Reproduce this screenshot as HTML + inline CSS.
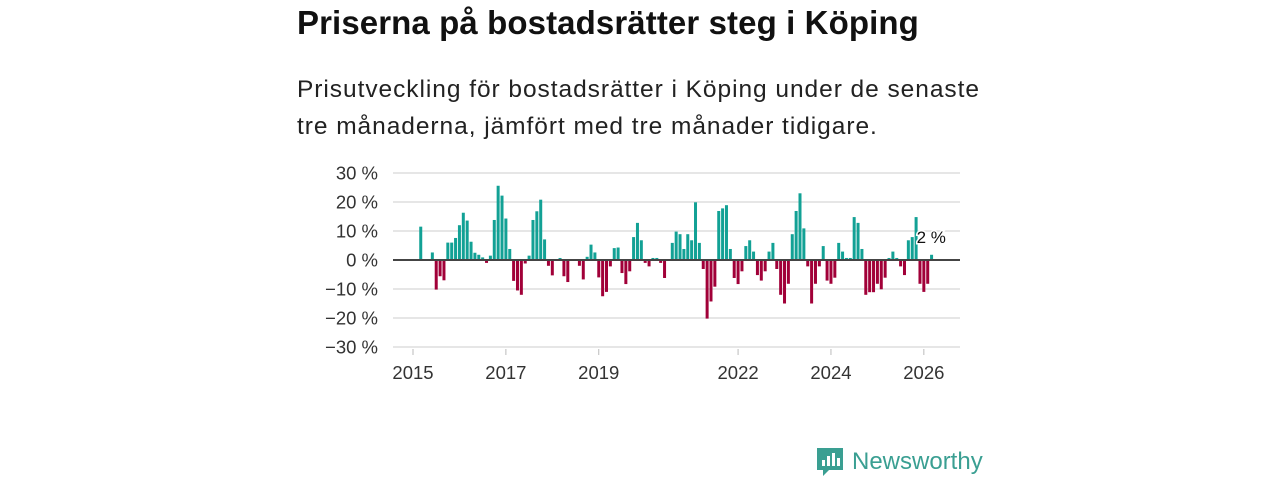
<!DOCTYPE html>
<html><head><meta charset="utf-8">
<style>
body{margin:0;background:#fff;width:1280px;height:480px;overflow:hidden;font-family:"Liberation Sans","DejaVu Sans",sans-serif;}
h1{position:absolute;left:297px;top:4px;margin:0;font-size:33px;font-weight:bold;color:#111;letter-spacing:0.1px}
.sub{position:absolute;left:297px;top:71px;margin:0;font-size:24.5px;line-height:37px;color:#222;width:720px;letter-spacing:0.95px}
svg{position:absolute;left:0;top:0}
</style></head><body>
<h1>Priserna på bostadsrätter steg i Köping</h1>
<p class="sub">Prisutveckling för bostadsrätter i Köping under de senaste<br>tre månaderna, jämfört med tre månader tidigare.</p>
<svg id="chart" width="1280" height="480"></svg>
<script>
const startYear = 2015;
const values = [null,null,11.5,null,null,2.6,-10.2,-5.6,-7,6,6,7.6,12,16.3,13.6,6.3,2.5,1.8,0.9,-1,1.5,13.8,25.6,22.2,14.3,3.8,-7.2,-10.5,-12,-1.2,1.5,13.8,16.8,20.8,7.1,-2,-5.3,null,0.7,-5.6,-7.6,null,null,-2,-6.7,1.1,5.3,2.6,-6,-12.5,-11,-2.2,4.1,4.3,-4.5,-8.3,-3.9,7.9,12.8,6.8,-1,-2.2,0.7,0.7,-1,-6.2,null,5.9,9.8,8.9,3.8,8.9,6.8,19.9,5.9,-3.1,-20.2,-14.3,-9.2,16.9,17.8,18.9,3.8,-6.2,-8.3,-3.9,4.8,6.8,2.9,-5.2,-7.1,-3.9,2.9,5.9,-3.1,-12,-15,-8.2,8.9,16.9,23,10.9,-2.2,-15,-8.2,-2.2,4.8,-7.1,-8.2,-6.1,5.9,2.9,0.7,0.7,14.8,12.8,3.8,-12,-11.1,-11.1,-8.2,-10.1,-6.1,0.7,2.9,0.7,-2.2,-5.2,6.8,7.9,14.8,-8.2,-11,-8.2,1.8];
const yTicks = [30,20,10,0,-10,-20,-30];
const yTickLabels = ["30 %","20 %","10 %","0 %","−10 %","−20 %","−30 %"];
const xTickYears = [2015,2017,2019,2022,2024,2026];
const lastLabel = "2 %";

const NS="http://www.w3.org/2000/svg";
const svg=document.getElementById('chart');
const X0=413, XS=3.87, Y0=260, YS=2.9;
const xs=i=>X0+i*XS;
const ys=v=>Y0-v*YS;
function mk(tag,attrs){const e=document.createElementNS(NS,tag);for(const k in attrs)e.setAttribute(k,attrs[k]);svg.appendChild(e);return e;}
yTicks.forEach((t,k)=>{
  if(t!==0){const g=mk('line',{x1:393,x2:960,y1:ys(t),y2:ys(t),stroke:'#dedede','stroke-width':1.5});
  
  }
  const tx=mk('text',{x:378,y:ys(t)+6.5,'text-anchor':'end','font-size':18.5,fill:'#333'});
  tx.textContent=yTickLabels[k];
  
  
});
xTickYears.forEach(yr=>{
  const x=xs((yr-startYear)*12);
  const tk=mk('line',{x1:x,x2:x,y1:349,y2:355,stroke:'#bbb','stroke-width':1});
  
  
  const tx=mk('text',{x:x,y:379,'text-anchor':'middle','font-size':18.5,fill:'#333'});
  tx.textContent=yr;
  
  
});
values.forEach((v,i)=>{
  if(v===null)return;
  const x=xs(i)-1.5;
  const y=v>=0?ys(v):Y0;
  const r=mk('rect',{x:x,y:y,width:3,height:Math.abs(v)*YS,fill:v>=0?'#12a195':'#a10038'});
  
  
});
const z=mk('line',{x1:393,x2:960,y1:Y0,y2:Y0,stroke:'#444','stroke-width':2});


const li=values.length-1;
const lb=mk('text',{x:xs(li)-15,y:ys(10)+12,'font-size':17,fill:'#111',stroke:'#fff','stroke-width':3,'paint-order':'stroke'});
lb.textContent=lastLabel;


</script>
<div style="position:absolute;left:815px;top:446px;display:flex;align-items:center;">
  <svg width="30" height="32" viewBox="0 0 30 32" style="position:static">
    <path d="M2 2h26v22H14l-6 6v-6H2z" fill="#3a9f92"/>
    <rect x="7" y="14" width="3" height="6" fill="#fff"/><rect x="12" y="10" width="3" height="10" fill="#fff"/><rect x="17" y="7" width="3" height="13" fill="#fff"/><rect x="22" y="12" width="3" height="8" fill="#fff"/>
  </svg>
  <span style="margin-left:7px;font-size:24px;color:#3a9f92;font-weight:500">Newsworthy</span>
</div>
</body></html>
